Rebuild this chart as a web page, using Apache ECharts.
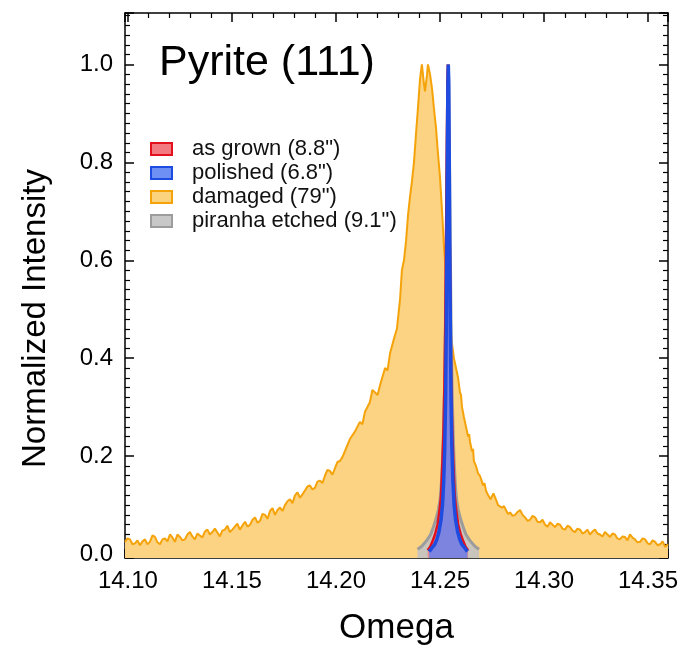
<!DOCTYPE html>
<html><head><meta charset="utf-8">
<script src="https://cdn.jsdelivr.net/npm/echarts@6/dist/echarts.min.js"></script>
<style>html,body{margin:0;padding:0;background:#fff}#c{width:684px;height:651px}</style>
</head><body><div id="c"></div>
<script>
const FONT = '"Liberation Sans", Arial, sans-serif';

// Axis ranges
const X_MIN = 14.0986, X_MAX = 14.3596;
const Y_MIN = -0.008, Y_MAX = 1.105;

const seriesNames = ['as grown (8.8")', 'polished (6.8")', 'damaged (79")', 'piranha etched (9.1")'];

// damaged (broad, noisy): [omega, intensity]
const damagedPoints = [
[14.0986,0.025],[14.0998,0.032],[14.1010,0.030],[14.1022,0.020],[14.1034,0.022],[14.1046,0.028],
[14.1058,0.018],[14.1070,0.026],[14.1082,0.030],[14.1094,0.020],[14.1106,0.025],[14.1118,0.038],
[14.1130,0.035],[14.1142,0.024],[14.1154,0.020],[14.1166,0.030],[14.1178,0.032],[14.1190,0.026],
[14.1202,0.040],[14.1214,0.034],[14.1226,0.025],[14.1238,0.040],[14.1250,0.035],[14.1262,0.028],
[14.1274,0.030],[14.1286,0.040],[14.1298,0.045],[14.1310,0.036],[14.1322,0.030],[14.1334,0.042],
[14.1346,0.038],[14.1358,0.034],[14.1370,0.046],[14.1382,0.050],[14.1394,0.040],[14.1406,0.045],
[14.1418,0.052],[14.1430,0.044],[14.1442,0.036],[14.1454,0.048],[14.1466,0.050],[14.1478,0.058],
[14.1490,0.045],[14.1502,0.050],[14.1514,0.056],[14.1526,0.062],[14.1538,0.050],[14.1550,0.058],
[14.1563,0.066],[14.1575,0.056],[14.1587,0.060],[14.1599,0.070],[14.1611,0.075],[14.1623,0.064],
[14.1635,0.068],[14.1647,0.082],[14.1659,0.080],[14.1671,0.072],[14.1683,0.088],[14.1695,0.094],
[14.1707,0.080],[14.1719,0.090],[14.1731,0.095],[14.1743,0.088],[14.1755,0.100],[14.1767,0.108],
[14.1779,0.112],[14.1791,0.104],[14.1803,0.120],[14.1815,0.126],[14.1827,0.115],[14.1839,0.122],
[14.1851,0.130],[14.1863,0.138],[14.1875,0.140],[14.1887,0.132],[14.1899,0.135],[14.1911,0.148],
[14.1923,0.150],[14.1935,0.145],[14.1947,0.160],[14.1959,0.172],[14.1971,0.170],[14.1983,0.162],
[14.1995,0.175],[14.2007,0.188],[14.2019,0.190],[14.2031,0.198],[14.2043,0.210],[14.2067,0.235],
[14.2091,0.250],[14.2115,0.270],[14.2127,0.265],[14.2139,0.290],[14.2163,0.310],[14.2175,0.335],
[14.2188,0.330],[14.2200,0.325],[14.2212,0.345],[14.2236,0.380],[14.2248,0.375],[14.2260,0.410],
[14.2279,0.440],[14.2293,0.460],[14.2308,0.520],[14.2317,0.580],[14.2327,0.600],[14.2337,0.640],
[14.2346,0.690],[14.2356,0.730],[14.2365,0.760],[14.2375,0.800],[14.2385,0.860],[14.2394,0.910],
[14.2404,0.970],[14.2413,1.000],[14.2423,0.960],[14.2428,0.945],[14.2438,0.980],[14.2442,1.000],
[14.2452,0.980],[14.2462,0.950],[14.2471,0.910],[14.2481,0.870],[14.2490,0.820],[14.2500,0.770],
[14.2510,0.700],[14.2519,0.630],[14.2529,0.570],[14.2538,0.520],[14.2548,0.470],[14.2558,0.430],
[14.2567,0.400],[14.2577,0.380],[14.2587,0.360],[14.2596,0.330],[14.2601,0.325],[14.2606,0.300],
[14.2615,0.280],[14.2625,0.260],[14.2635,0.240],[14.2640,0.245],[14.2644,0.230],[14.2654,0.210],
[14.2659,0.215],[14.2663,0.190],[14.2673,0.180],[14.2683,0.165],[14.2692,0.160],[14.2700,0.150],
[14.2707,0.140],[14.2714,0.145],[14.2721,0.130],[14.2729,0.122],[14.2736,0.125],[14.2743,0.112],
[14.2750,0.115],[14.2757,0.124],[14.2764,0.120],[14.2772,0.108],[14.2779,0.100],[14.2788,0.104],
[14.2798,0.095],[14.2808,0.098],[14.2817,0.090],[14.2827,0.082],[14.2837,0.085],[14.2849,0.078],
[14.2861,0.080],[14.2873,0.086],[14.2885,0.090],[14.2897,0.080],[14.2909,0.075],[14.2921,0.068],
[14.2933,0.070],[14.2945,0.078],[14.2957,0.075],[14.2969,0.066],[14.2981,0.065],[14.2993,0.070],
[14.3005,0.060],[14.3017,0.056],[14.3029,0.065],[14.3041,0.060],[14.3053,0.055],[14.3065,0.062],
[14.3077,0.060],[14.3089,0.052],[14.3101,0.050],[14.3113,0.058],[14.3125,0.055],[14.3137,0.048],
[14.3149,0.045],[14.3161,0.052],[14.3173,0.050],[14.3185,0.042],[14.3197,0.045],[14.3209,0.050],
[14.3221,0.040],[14.3233,0.046],[14.3245,0.050],[14.3257,0.042],[14.3269,0.040],[14.3281,0.036],
[14.3293,0.045],[14.3305,0.040],[14.3317,0.035],[14.3329,0.042],[14.3341,0.040],[14.3353,0.032],
[14.3365,0.030],[14.3377,0.036],[14.3389,0.035],[14.3401,0.028],[14.3413,0.040],[14.3425,0.034],
[14.3437,0.030],[14.3449,0.024],[14.3462,0.025],[14.3474,0.032],[14.3486,0.030],[14.3498,0.022],
[14.3510,0.020],[14.3522,0.028],[14.3534,0.025],[14.3546,0.018],[14.3558,0.020],[14.3570,0.026],
[14.3582,0.015],[14.3596,0.020]
];

// as grown (narrow)
const grownOmega = [14.2441,14.2453,14.2463,14.2476,14.2488,14.2498,14.2505,14.2510,14.2516,14.2521,
14.2525,14.2529,14.2533,14.2536,14.2538,14.2540,14.2543,14.2547,14.2551,14.2555,
14.2560,14.2566,14.2571,14.2578,14.2588,14.2600,14.2613,14.2623,14.2635];
const grownIntensity = [0.008,0.015,0.025,0.04,0.06,0.09,0.12,0.17,0.24,0.34,
0.46,0.64,0.84,0.97,1.0,0.97,0.84,0.64,0.46,0.34,
0.24,0.17,0.12,0.09,0.06,0.04,0.025,0.015,0.008];

// polished (narrowest)
const polishedOmega = [14.2448,14.2460,14.2475,14.2485,14.2495,14.2505,14.2512,14.2518,14.2523,14.2527,
14.2530,14.2533,14.2536,14.2538,14.2540,14.2542,14.2544,14.2547,14.2550,14.2553,
14.2557,14.2562,14.2568,14.2575,14.2585,14.2595,14.2605,14.2620,14.2632];
const polishedIntensity = [0.005,0.012,0.02,0.03,0.045,0.07,0.10,0.15,0.22,0.32,
0.45,0.62,0.84,0.96,1.0,0.96,0.84,0.62,0.45,0.32,
0.22,0.15,0.10,0.07,0.045,0.03,0.02,0.012,0.005];

// piranha etched (narrow, wider wings)
const piranhaOmega = [14.2392,14.2410,14.2425,14.2440,14.2455,14.2468,14.2480,14.2492,14.2500,14.2506,
14.2512,14.2517,14.2522,14.2527,14.2531,14.2535,14.2538,14.2540,14.2542,14.2545,
14.2549,14.2553,14.2558,14.2563,14.2568,14.2574,14.2580,14.2588,14.2600,14.2612,
14.2625,14.2640,14.2655,14.2670,14.2688];
const piranhaIntensity = [0.01,0.015,0.022,0.03,0.04,0.055,0.07,0.09,0.11,0.14,
0.19,0.25,0.34,0.48,0.65,0.85,0.97,1.0,0.97,0.85,
0.65,0.48,0.34,0.25,0.19,0.14,0.11,0.09,0.07,0.055,
0.04,0.03,0.022,0.015,0.01];

function zip(xs, ys) {
  const n = Math.min(xs.length, ys.length);
  const out = [];
  for (let i = 0; i < n; i++) out.push([xs[i], ys[i]]);
  return out;
}

const styles = {
  grown:    {line:'#E3101E', fill:'rgba(255,90,100,0.55)', icon:'#F47A82'},
  polished: {line:'#1E4BE0', fill:'rgba(85,130,255,0.72)', icon:'#6E8FF4'},
  damaged:  {line:'#F5A30A', fill:'#FCD382', icon:'#FBD27D'},
  piranha:  {line:'#9C9C9C', fill:'rgba(195,195,195,0.9)', icon:'#C8C8C8'}
};

function axisBase(extra) {
  return Object.assign({
    type:'value', splitNumber:5,
    axisLine:{show:true, onZero:false, lineStyle:{color:'#000', width:1.5}},
    axisTick:{show:true, inside:true, length:9, lineStyle:{color:'#000', width:1.5}},
    minorTick:{show:true, splitNumber:5, length:5, lineStyle:{color:'#000', width:1.2}},
    splitLine:{show:false}, minorSplitLine:{show:false}
  }, extra);
}

const chart = echarts.init(document.getElementById('c'), null, {renderer:'canvas'});
chart.setOption({
  animation:false,
  backgroundColor:'#fff',
  title:{text:'Pyrite (111)', left:159, top:42, padding:0,
    textStyle:{fontFamily:FONT, fontSize:43, fontWeight:'normal', color:'#000'}},
  legend:{
    orient:'vertical', left:150, top:138, padding:0, itemWidth:21, itemHeight:12, itemGap:2,
    icon:'rect',
    textStyle:{fontFamily:FONT, fontSize:22, color:'#111', lineHeight:22, padding:[0,0,0,15]},
    data:[
      {name:seriesNames[0], itemStyle:{color:styles.grown.icon, borderColor:styles.grown.line, borderWidth:2}},
      {name:seriesNames[1], itemStyle:{color:styles.polished.icon, borderColor:styles.polished.line, borderWidth:2}},
      {name:seriesNames[2], itemStyle:{color:styles.damaged.icon, borderColor:styles.damaged.line, borderWidth:2}},
      {name:seriesNames[3], itemStyle:{color:styles.piranha.icon, borderColor:styles.piranha.line, borderWidth:2}}
    ]
  },
  grid:{left:125, top:13, right:16, bottom:93},
  xAxis:[
    axisBase({position:'bottom', min:X_MIN, max:X_MAX,
      name:'Omega', nameLocation:'middle', nameGap:53,
      nameTextStyle:{fontFamily:FONT, fontSize:35, color:'#000'},
      axisLabel:{show:true, margin:11, fontFamily:FONT, fontSize:24, color:'#000',
        showMinLabel:false, showMaxLabel:false, formatter:v=>v.toFixed(2)}}),
    axisBase({position:'top', min:X_MIN, max:X_MAX, axisLabel:{show:false}})
  ],
  yAxis:[
    axisBase({position:'left', min:Y_MIN, max:Y_MAX,
      minorTick:{show:true, splitNumber:10, length:5, lineStyle:{color:'#000', width:1.2}},
      name:'Normalized Intensity', nameLocation:'middle', nameGap:73,
      nameTextStyle:{fontFamily:FONT, fontSize:33, color:'#000', padding:[0,66,0,0]},
      axisLabel:{show:true, margin:12, fontFamily:FONT, fontSize:24, color:'#000',
        showMinLabel:false, showMaxLabel:false, formatter:v=>v.toFixed(1)}}),
    axisBase({position:'right', min:Y_MIN, max:Y_MAX,
      minorTick:{show:true, splitNumber:10, length:5, lineStyle:{color:'#000', width:1.2}},
      axisLabel:{show:false}})
  ],
  series:[
    {name:seriesNames[2], type:'line', z:2, showSymbol:false, data:damagedPoints,
      lineStyle:{color:styles.damaged.line, width:2}, itemStyle:{color:styles.damaged.line},
      areaStyle:{color:styles.damaged.fill, opacity:1, origin:'start'}},
    {name:seriesNames[3], type:'line', z:3, showSymbol:false, data:zip(piranhaOmega, piranhaIntensity),
      lineStyle:{color:styles.piranha.line, width:3}, itemStyle:{color:styles.piranha.line},
      areaStyle:{color:styles.piranha.fill, opacity:1, origin:'start'}},
    {name:seriesNames[0], type:'line', z:4, showSymbol:false, data:zip(grownOmega, grownIntensity),
      lineStyle:{color:styles.grown.line, width:2.5}, itemStyle:{color:styles.grown.line},
      areaStyle:{color:styles.grown.fill, opacity:1, origin:'start'}},
    {name:seriesNames[1], type:'line', z:5, showSymbol:false, data:zip(polishedOmega, polishedIntensity),
      lineStyle:{color:styles.polished.line, width:3.5}, itemStyle:{color:styles.polished.line},
      areaStyle:{color:styles.polished.fill, opacity:1, origin:'start'}}
  ]
});
</script></body></html>
